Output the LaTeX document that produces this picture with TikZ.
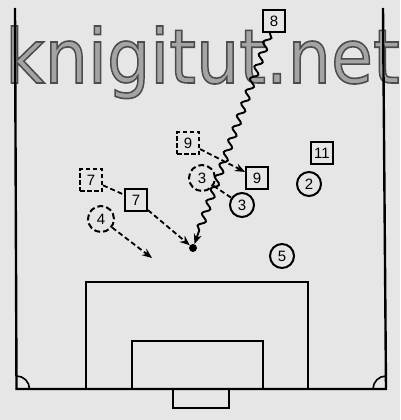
\documentclass[tikz,border=0pt]{standalone}
\usepackage{fontspec}
\setmainfont{Liberation Sans}
\newfontfamily\wmfont{DejaVu Sans}
\usetikzlibrary{arrows.meta,decorations.pathmorphing}
\definecolor{paper}{HTML}{E6E6E6}
\definecolor{wmfill}{HTML}{A4A4A4}
\begin{document}
\begin{tikzpicture}[x=1pt,y=-1pt,
  field/.style={line width=2.4pt, line join=miter},
  corner/.style={line width=1.6pt},
  pl/.style={line width=2pt, font=\fontsize{15}{15}\selectfont, inner sep=0pt},
  sq/.style={pl, draw, rectangle, minimum size=22pt},
  sqd/.style={sq, dash pattern=on 4.5pt off 2.5pt},
  ci/.style={pl, draw, circle, minimum size=24pt},
  cid/.style={ci, minimum size=26pt, dash pattern=on 6pt off 3pt},
  mv/.style={line width=1.8pt, dash pattern=on 5pt off 3pt},
  mva/.style={mv, -{Stealth[length=10pt,width=8pt]}},
  dribble/.style={line width=1.9pt, decorate,
    decoration={snake, amplitude=3.3pt, segment length=13pt, post length=10pt},
    -{Stealth[length=10pt,width=8pt]}},
  wm/.style={anchor=base west, inner sep=0pt, font=\wmfont\fontsize{75}{75}\selectfont}
]
\fill[paper] (0,0) rectangle (400,420);
\useasboundingbox (0,0) rectangle (400,420);

% watermark
\node[wm] (wmark) at (5,83) {\scalebox{0.91}[1]{\color{wmfill}\special{pdf:literal direct 2 Tr 1.6 w 0.3 0.3 0.3 RG}knigitut.net\special{pdf:literal direct 0 Tr}}};

% field
\draw[field] (15,8) -- (16.5,389) -- (386,389) -- (383,8);
\draw[field] (86,389) -- (86,282) -- (308,282) -- (308,389);
\draw[field] (132,389) -- (132,341) -- (263,341) -- (263,389);
\draw[field] (173,389) -- (173,408) -- (229,408) -- (229,389);
\draw[corner] (29.5,389) arc[start angle=0, end angle=-90, radius=13];
\draw[corner] (373,389) arc[start angle=180, end angle=270, radius=13];

% players
\node[sq]  (p8)  at (274,21)  {8};
\node[sqd] (p9d) at (188,143) {9};
\node[sq]  (p9)  at (257,178) {9};
\node[sq]  (p11) at (322,153) {11};
\node[sqd] (p7d) at (91,180)  {7};
\node[sq]  (p7)  at (136,200) {7};
\node[cid] (p3d) at (202,178) {3};
\node[ci]  (p3)  at (242,205) {3};
\node[ci]  (p2)  at (309,184) {2};
\node[ci]  (p5)  at (282,256) {5};
\node[cid] (p4)  at (101,219) {4};
\node[circle, fill, inner sep=0pt, minimum size=8pt] (ball) at (193,248) {};
\coordinate (t4) at (152,258);

% movements
\draw[mva] (p9d) -- (p9);
\draw[mv]  (p3d) -- (p3);
\draw[mv]  (p7d) -- (p7);
\draw[mva] (p7) -- (ball);
\draw[mva] (p4) -- (t4);
\draw[dribble] (p8) -- (ball);
\end{tikzpicture}
\end{document}
